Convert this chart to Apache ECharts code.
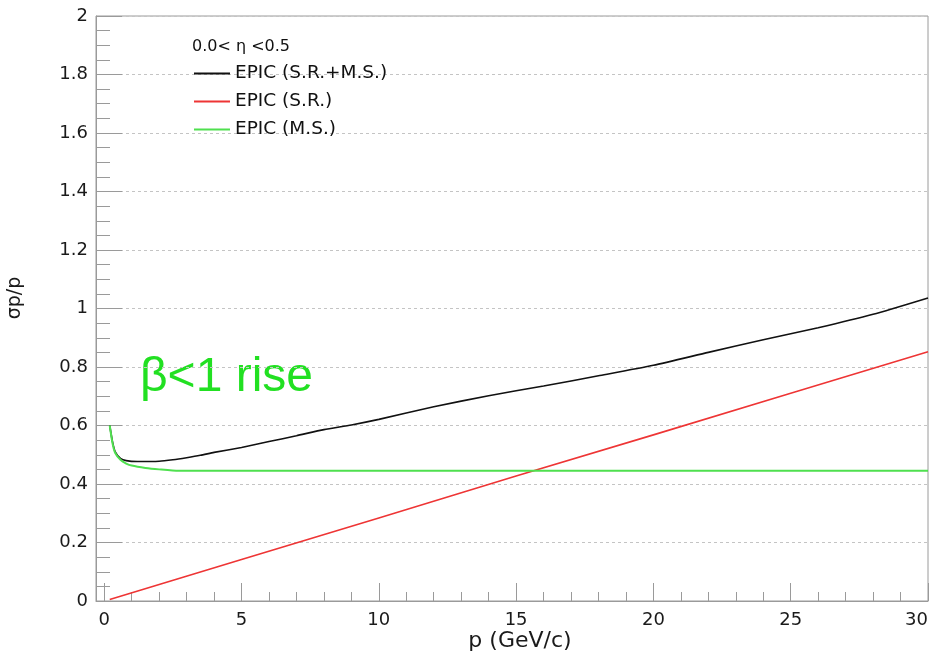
<!DOCTYPE html>
<html>
<head>
<meta charset="utf-8">
<script src="https://cdn.jsdelivr.net/npm/echarts@6/dist/echarts.min.js"></script>
<style>
    html, body {margin: 0; background: #fff;}
    #chart {width: 936px; height: 661px;}
</style>
</head>
<body>
<div id="chart"></div>
<script>
// tick positions
const majorX = [0, 5, 10, 15, 20, 25, 30];
const minorX = [1, 2, 3, 4, 6, 7, 8, 9, 11, 12, 13, 14, 16, 17, 18, 19, 21, 22, 23, 24, 26, 27, 28, 29];

// [p, sigma_p/p]
const srms = [[0.2, 0.60], [0.3, 0.545], [0.4, 0.51], [0.6, 0.487], [0.8, 0.480], [1.2, 0.477], [2, 0.478],
    [2.5, 0.483], [3, 0.490], [3.5, 0.498], [4, 0.508], [5, 0.525], [6, 0.545], [7, 0.565], [8, 0.586],
    [9, 0.602], [10, 0.621], [12, 0.664], [14, 0.702], [16, 0.735], [18, 0.770], [20, 0.806], [22, 0.850],
    [24, 0.893], [26, 0.934], [28, 0.980], [30, 1.036]];
const sr = [[0.2, 0.005], [5, 0.142], [10, 0.284], [15, 0.427], [20, 0.568], [25, 0.710], [30, 0.852]];
const ms = [[0.2, 0.60], [0.3, 0.54], [0.4, 0.506], [0.6, 0.482], [0.8, 0.470], [1, 0.463], [1.5, 0.455],
    [2, 0.450], [2.7, 0.445], [3, 0.445], [10, 0.445], [20, 0.445], [30, 0.445]];

const names = ['EPIC (S.R.+M.S.)', 'EPIC (S.R.)', 'EPIC (M.S.)'];
const etaLabel = '0.0< \u03b7 <0.5';

const axisGray = '#9a9a9a';
const labelFont = 'DejaVu Sans';

let chart = echarts.init(document.getElementById('chart'));
let option = {
    backgroundColor: '#fff',
    animation: false,
    grid: {
        left: 96, right: 8, top: 16, bottom: 60,
        outerBoundsMode: 'none',
        containLabel: false,
        show: true,
        borderColor: axisGray,
        borderWidth: 1
    },
    legend: {
        orient: 'vertical',
        left: 194,
        top: 64,
        padding: 0,
        icon: 'rect',
        itemWidth: 36,
        itemHeight: 2,
        itemGap: 9,
        data: names,
        textStyle: {fontFamily: labelFont, fontSize: 18.5, color: '#111', lineHeight: 18}
    },
    xAxis: [
        {
            type: 'value',
            min: -0.3,
            max: 30,
            axisLine: {show: true, onZero: false, lineStyle: {color: axisGray}},
            axisTick: {show: true, inside: true, length: 18, customValues: majorX, lineStyle: {color: axisGray}},
            axisLabel: {customValues: majorX, alignMaxLabel: 'right', fontFamily: labelFont, fontSize: 18, color: '#1a1a1a', margin: 10},
            splitLine: {show: false}
        },
        {
            type: 'value',
            min: -0.3,
            max: 30,
            position: 'bottom',
            axisLine: {show: false},
            axisTick: {show: true, inside: true, length: 9, customValues: minorX, lineStyle: {color: axisGray}},
            axisLabel: {show: false},
            splitLine: {show: false}
        }
    ],
    yAxis: {
        type: 'value',
        min: 0,
        max: 2,
        interval: 0.2,
        axisLine: {show: true, onZero: false, lineStyle: {color: axisGray}},
        axisTick: {show: true, inside: true, length: 26, lineStyle: {color: axisGray}},
        minorTick: {show: true, splitNumber: 4, length: 14, lineStyle: {color: axisGray}},
        axisLabel: {fontFamily: labelFont, fontSize: 18, color: '#1a1a1a', margin: 8},
        splitLine: {show: true, lineStyle: {color: '#c4c4c4', type: [3, 3], width: 1}}
    },
    graphic: [
        {
            type: 'text', x: 192, y: 47,
            style: {text: etaLabel, font: '16px "DejaVu Sans"', fill: '#111', verticalAlign: 'middle'}
        },
        {
            type: 'text', x: 140, y: 378,
            style: {text: '\u03b2<1 rise', font: '48px "Liberation Sans"', fill: '#22e022', verticalAlign: 'middle'}
        },
        {
            type: 'text', x: 520, y: 641,
            style: {text: 'p (GeV/c)', font: '22px "DejaVu Sans"', fill: '#1a1a1a', align: 'center', verticalAlign: 'middle'}
        },
        {
            type: 'text', x: 15, y: 298, rotation: Math.PI / 2,
            style: {text: '\u03c3p/p', font: '19px "DejaVu Sans"', fill: '#1a1a1a', align: 'center', verticalAlign: 'middle'}
        }
    ],
    series: [
        {
            name: names[0], type: 'line', data: srms, symbol: 'none', smooth: 0.2,
            lineStyle: {color: '#111', width: 1.6}, itemStyle: {color: '#111'}
        },
        {
            name: names[1], type: 'line', data: sr, symbol: 'none',
            lineStyle: {color: '#ee3535', width: 1.6}, itemStyle: {color: '#ee3535'}
        },
        {
            name: names[2], type: 'line', data: ms, symbol: 'none', smooth: 0.2,
            lineStyle: {color: '#4fe04f', width: 2}, itemStyle: {color: '#4fe04f'}
        }
    ]
};
chart.setOption(option);
</script>
</body>
</html>
